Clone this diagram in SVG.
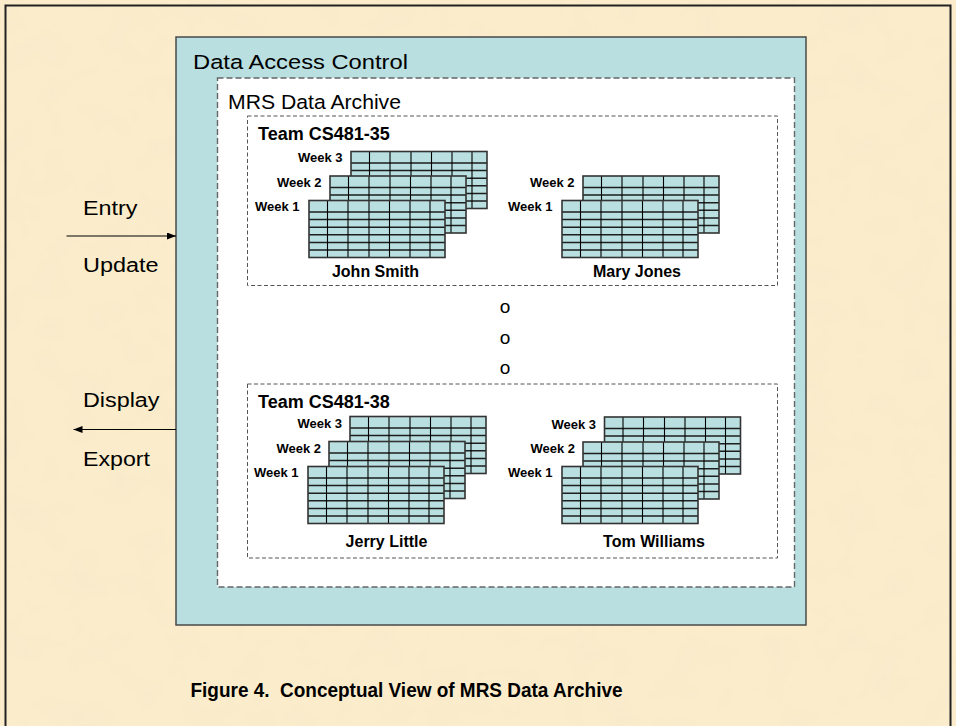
<svg xmlns="http://www.w3.org/2000/svg" xmlns:xlink="http://www.w3.org/1999/xlink" width="956" height="726" viewBox="0 0 956 726">
  <style>
    .reg { font-family: "Liberation Sans", Arial, sans-serif; fill: #000; }
    .bold { font-family: "Liberation Sans", Arial, sans-serif; font-weight: bold; fill: #000; }
    .week { font-size: 13px; text-anchor: end; }
    .owner { font-size: 16px; text-anchor: middle; }
    .team { font-size: 18px; }
    .io { font-size: 20px; }
    .dash { fill: #fff; stroke: #666; stroke-width: 1.4; stroke-dasharray: 6 3; }
    .teamBox { fill: none; stroke: #555; stroke-width: 1; stroke-dasharray: 4 2.5; }
    .cellH { stroke: #1e1e1e; stroke-width: 1.5; }
    .cellV { stroke: #000; stroke-width: 1.1; }
  </style>
  <defs>
    <filter id="parchment" x="0" y="0" width="100%" height="100%">
      <feTurbulence type="fractalNoise" baseFrequency="0.03" numOctaves="3" seed="11" result="noise"/>
      <feColorMatrix in="noise" type="matrix" values="0 0 0 0 0.94  0 0 0 0 0.82  0 0 0 0 0.6  2.4 0 0 0 -1.08" result="spots"/>
      <feComposite in="spots" in2="SourceGraphic" operator="over"/>
    </filter>
    <marker id="arrow" markerUnits="userSpaceOnUse" markerWidth="9" markerHeight="7" refX="9" refY="3.5" orient="auto">
      <path d="M0,0 L9,3.5 L0,7 z" fill="#000"/>
    </marker>
    <!-- one weekly spreadsheet: header row plus six data rows, seven columns -->
    <g id="sheet">
      <rect width="136" height="57" fill="#B9DFE1"/>
      <path class="cellH" d="M0,11.5H136M0,19.1H136M0,26.7H136M0,34.3H136M0,41.9H136M0,49.5H136"/>
      <path class="cellV" d="M18.5,0V57M39,0V57M60,0V57M80.5,0V57M101,0V57M121,0V57"/>
      <rect width="136" height="57" fill="none" stroke="#333" stroke-width="1.6"/>
    </g>
  </defs>

  <!-- page background and frame -->
  <rect x="0" y="0" width="956" height="726" fill="#FBEDCB" filter="url(#parchment)"/>
  <rect x="5.5" y="5.5" width="945" height="740" fill="none" stroke="#222" stroke-width="2"/>

  <g id="data-access-control">
    <rect x="176" y="37" width="630" height="588" fill="#B9DFE0" stroke="#4a4a4a" stroke-width="1.5"/>
    <text class="reg" x="193" y="69" font-size="20.5" textLength="215" lengthAdjust="spacingAndGlyphs">Data Access Control</text>
  </g>

  <g id="mrs-data-archive">
    <rect class="dash" x="217.5" y="78" width="577" height="509"/>
    <text class="reg" x="228" y="109" font-size="20.5" textLength="173" lengthAdjust="spacingAndGlyphs">MRS Data Archive</text>
    <text class="reg" x="505" y="313" font-size="19" text-anchor="middle">o</text>
    <text class="reg" x="505" y="344" font-size="19" text-anchor="middle">o</text>
    <text class="reg" x="505" y="374" font-size="19" text-anchor="middle">o</text>
  </g>

  <g id="team-cs481-35">
    <rect class="teamBox" x="247.5" y="116" width="530" height="169.5"/>
    <text class="bold team" x="258" y="140">Team CS481-35</text>

    <g id="john-smith">
      <use xlink:href="#sheet" x="351" y="151.5"/>
      <use xlink:href="#sheet" x="330" y="176"/>
      <use xlink:href="#sheet" x="309" y="200.5"/>
      <text class="bold week" x="342.5" y="162">Week 3</text>
      <text class="bold week" x="321.5" y="186.5">Week 2</text>
      <text class="bold week" x="299.5" y="211">Week 1</text>
      <text class="bold owner" x="375.5" y="276.5">John Smith</text>
    </g>

    <g id="mary-jones">
      <use xlink:href="#sheet" x="583" y="176"/>
      <use xlink:href="#sheet" x="562" y="200.5"/>
      <text class="bold week" x="574.5" y="186.5">Week 2</text>
      <text class="bold week" x="552.5" y="211">Week 1</text>
      <text class="bold owner" x="637" y="276.5">Mary Jones</text>
    </g>
  </g>

  <g id="team-cs481-38">
    <rect class="teamBox" x="247.5" y="384" width="530" height="174"/>
    <text class="bold team" x="258" y="407.5">Team CS481-38</text>

    <g id="jerry-little">
      <use xlink:href="#sheet" x="350" y="416.5"/>
      <use xlink:href="#sheet" x="329" y="441.5"/>
      <use xlink:href="#sheet" x="308" y="466.5"/>
      <text class="bold week" x="342" y="428">Week 3</text>
      <text class="bold week" x="321" y="452.5">Week 2</text>
      <text class="bold week" x="298.5" y="477">Week 1</text>
      <text class="bold owner" x="386.5" y="546.5">Jerry Little</text>
    </g>

    <g id="tom-williams">
      <use xlink:href="#sheet" x="604.5" y="417"/>
      <use xlink:href="#sheet" x="583" y="442"/>
      <use xlink:href="#sheet" x="562" y="466.5"/>
      <text class="bold week" x="596" y="428.5">Week 3</text>
      <text class="bold week" x="575" y="453">Week 2</text>
      <text class="bold week" x="552.5" y="477">Week 1</text>
      <text class="bold owner" x="654" y="547">Tom Williams</text>
    </g>
  </g>

  <g id="connectors">
    <line x1="66.5" y1="236" x2="176" y2="236" stroke="#000" stroke-width="1" marker-end="url(#arrow)"/>
    <line x1="176" y1="429.5" x2="73.5" y2="429.5" stroke="#000" stroke-width="1" marker-end="url(#arrow)"/>
    <text class="reg io" x="83" y="215" textLength="54.5" lengthAdjust="spacingAndGlyphs">Entry</text>
    <text class="reg io" x="83" y="271.5" textLength="75.5" lengthAdjust="spacingAndGlyphs">Update</text>
    <text class="reg io" x="83" y="407" textLength="76.5" lengthAdjust="spacingAndGlyphs">Display</text>
    <text class="reg io" x="83" y="466" textLength="67" lengthAdjust="spacingAndGlyphs">Export</text>
  </g>

  <text id="caption" class="bold" x="190.5" y="696.5" font-size="19.5" xml:space="preserve" textLength="432" lengthAdjust="spacingAndGlyphs">Figure 4.  Conceptual View of MRS Data Archive</text>
</svg>
